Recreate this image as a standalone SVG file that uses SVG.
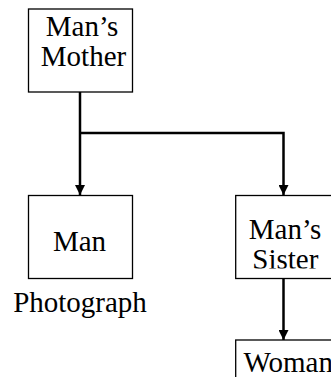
<svg xmlns="http://www.w3.org/2000/svg" width="331" height="377" viewBox="0 0 331 377">
  <style>
    .box { fill: #fff; stroke: #000; stroke-width: 1.3; }
    .lbl { font-family: "Liberation Serif", "Times New Roman", serif; font-size: 29px; fill: #000; }
    .wire { fill: none; stroke: #000; stroke-width: 2.5; }
  </style>
  <defs>
    <marker id="arrow" markerUnits="userSpaceOnUse" markerWidth="10" markerHeight="10" refX="10" refY="5" orient="auto">
      <path d="M0,0 L10,5 L0,10 Z" fill="#000"/>
    </marker>
    <clipPath id="clipMother"><rect x="28" y="9" width="105" height="57"/></clipPath>
    <clipPath id="clipSister"><rect x="235" y="196" width="100" height="72.5"/></clipPath>
  </defs>

  <rect width="331" height="377" fill="#fff"/>

  <g id="connectors">
    <path class="wire" d="M80,92 V195" marker-end="url(#arrow)"/>
    <path class="wire" d="M80,133 H283.5 V195" marker-end="url(#arrow)"/>
    <path class="wire" d="M283.5,278.5 V340" marker-end="url(#arrow)"/>
  </g>

  <g id="mans-mother">
    <rect class="box" x="28.5" y="9" width="104" height="83"/>
    <g clip-path="url(#clipMother)">
      <text class="lbl" x="82" y="36" text-anchor="middle">Man’s</text>
      <text class="lbl" x="83.5" y="66" text-anchor="middle">Mother</text>
    </g>
  </g>

  <g id="man">
    <rect class="box" x="28.5" y="195.5" width="104" height="83"/>
    <text class="lbl" x="79.5" y="251" text-anchor="middle">Man</text>
  </g>

  <g id="photograph">
    <text class="lbl" x="80" y="312" text-anchor="middle">Photograph</text>
  </g>

  <g id="mans-sister">
    <rect class="box" x="235.7" y="195.5" width="104" height="83"/>
    <g clip-path="url(#clipSister)">
      <text class="lbl" x="285" y="239" text-anchor="middle">Man’s</text>
      <text class="lbl" x="285.3" y="269" text-anchor="middle">Sister</text>
    </g>
  </g>

  <g id="woman">
    <rect class="box" x="235.7" y="340" width="104" height="83"/>
    <text class="lbl" x="243.5" y="372">Woman</text>
  </g>
</svg>
